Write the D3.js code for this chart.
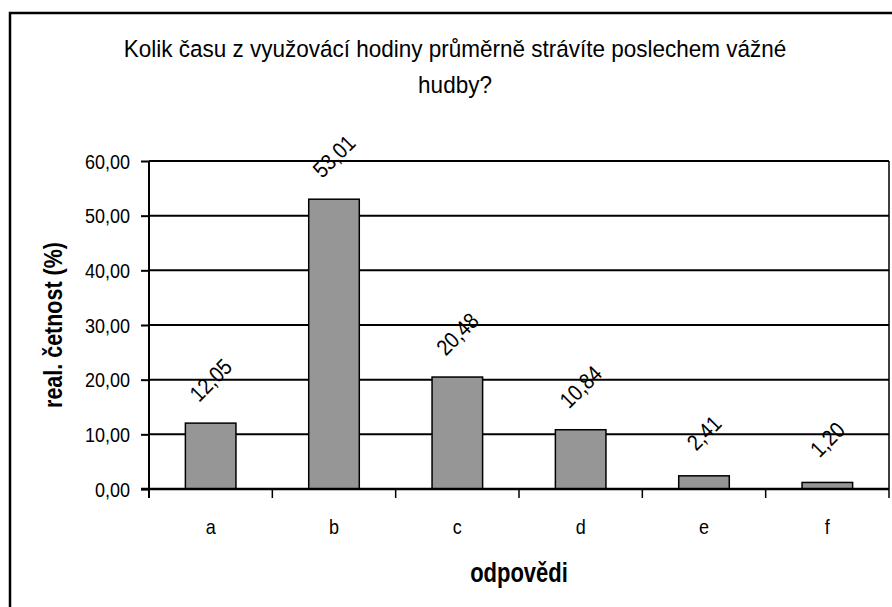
<!DOCTYPE html>
<html>
<head>
<meta charset="utf-8">
<script src="https://cdn.jsdelivr.net/npm/d3@7"></script>
<style>
  body { margin: 0; background: #fff; }
  text { font-family: "Liberation Sans", Arial, sans-serif; fill: #000; }
</style>
</head>
<body>
<div id="chart"></div>
<script>
// data
var categories = ["a", "b", "c", "d", "e", "f"];
var values = [12.05, 53.01, 20.48, 10.84, 2.41, 1.20];
var yTicks = [0, 10, 20, 30, 40, 50, 60];
var titleLines = ["Kolik času z využovácí hodiny průměrně strávíte poslechem vážné", "hudby?"];

var W = 892, H = 607;
var margin = {top: 161, right: 3, bottom: 118, left: 149};
var width = W - margin.left - margin.right;
var height = H - margin.top - margin.bottom;
var stretch = 1.15; // text in the original is a bit taller than Arial

var fmt = function(v) { return d3.format(".2f")(v).replace(".", ","); };

var svg = d3.select("#chart").append("svg")
  .attr("width", W)
  .attr("height", H);

// outer frame
svg.append("rect")
  .attr("x", 10).attr("y", 13)
  .attr("width", W + 20).attr("height", H + 20)
  .attr("fill", "none")
  .attr("stroke", "#000")
  .attr("stroke-width", 2.5);

// title
svg.selectAll(".title")
  .data(titleLines)
  .enter().append("text")
    .attr("class", "title")
    .attr("transform", function(d, i) {
      return "translate(455," + (57 + i * 36) + ") scale(1,1.08)";
    })
    .attr("text-anchor", "middle")
    .style("font-size", "22.5px")
    .text(function(d) { return d; });

var g = svg.append("g")
  .attr("transform", "translate(" + margin.left + "," + margin.top + ")");

var x = d3.scaleBand()
  .domain(categories)
  .range([0, width])
  .paddingInner(0.59)
  .paddingOuter(0.295);

var y = d3.scaleLinear()
  .domain([0, 60])
  .range([height, 0]);

// gridlines
g.selectAll(".grid")
  .data(yTicks)
  .enter().append("line")
    .attr("x1", 0).attr("x2", width)
    .attr("y1", function(d) { return y(d); })
    .attr("y2", function(d) { return y(d); })
    .attr("stroke", "#000")
    .attr("stroke-width", 2);

// right plot border
g.append("line")
  .attr("x1", width).attr("x2", width)
  .attr("y1", 0).attr("y2", height)
  .attr("stroke", "#000").attr("stroke-width", 1.5);

// bars
g.selectAll(".bar")
  .data(values)
  .enter().append("rect")
    .attr("x", function(d, i) { return x(categories[i]); })
    .attr("y", function(d) { return y(d); })
    .attr("width", x.bandwidth())
    .attr("height", function(d) { return height - y(d); })
    .attr("fill", "#969696")
    .attr("stroke", "#000")
    .attr("stroke-width", 1.5);

// value labels
g.selectAll(".val")
  .data(values)
  .enter().append("text")
    .attr("transform", function(d, i) {
      var cx = x(categories[i]) + x.bandwidth() / 2;
      return "translate(" + cx + "," + (y(d) - 43) + ") rotate(-45) scale(1," + stretch + ")";
    })
    .attr("text-anchor", "middle")
    .attr("dy", "0.35em")
    .style("font-size", "19.5px")
    .text(function(d) { return fmt(d); });

// y axis
var yAxis = g.append("g")
  .call(d3.axisLeft(y).tickValues(yTicks).tickSize(8).tickPadding(10).tickFormat(fmt));
yAxis.selectAll("path, line").attr("stroke", "#000").attr("stroke-width", 2);
yAxis.select(".domain").attr("d", "M0,0V" + (height + 9));
yAxis.selectAll("text")
  .attr("x", null).attr("dy", null)
  .attr("transform", "translate(-19,7) scale(1," + stretch + ")")
  .style("font-size", "18px")
  .style("font-family", "Liberation Sans, Arial, sans-serif");

// x axis
var step = width / categories.length;
var xAxis = g.append("g")
  .attr("transform", "translate(0," + height + ")");
xAxis.append("line")
  .attr("x1", -8).attr("x2", width)
  .attr("stroke", "#000").attr("stroke-width", 2.5);
xAxis.selectAll(".tick")
  .data(d3.range(categories.length + 1))
  .enter().append("line")
    .attr("x1", function(d) { return d * step; })
    .attr("x2", function(d) { return d * step; })
    .attr("y1", 0).attr("y2", 9)
    .attr("stroke", "#000").attr("stroke-width", 1.5);
xAxis.selectAll(".lbl")
  .data(categories)
  .enter().append("text")
    .attr("transform", function(d) {
      return "translate(" + (x(d) + x.bandwidth() / 2) + ",45) scale(1," + stretch + ")";
    })
    .attr("text-anchor", "middle")
    .style("font-size", "18px")
    .text(function(d) { return d; });

// axis titles
svg.append("text")
  .attr("transform", "translate(" + (margin.left + width / 2) + ",582) scale(1,1.22)")
  .attr("text-anchor", "middle")
  .style("font-size", "22px")
  .style("font-weight", "bold")
  .text("odpovědi");

svg.append("text")
  .attr("transform", "translate(62," + (margin.top + height / 2) + ") rotate(-90) scale(1,1.22)")
  .attr("text-anchor", "middle")
  .style("font-size", "21.5px")
  .style("font-weight", "bold")
  .text("real. četnost (%)");
</script>
</body>
</html>
